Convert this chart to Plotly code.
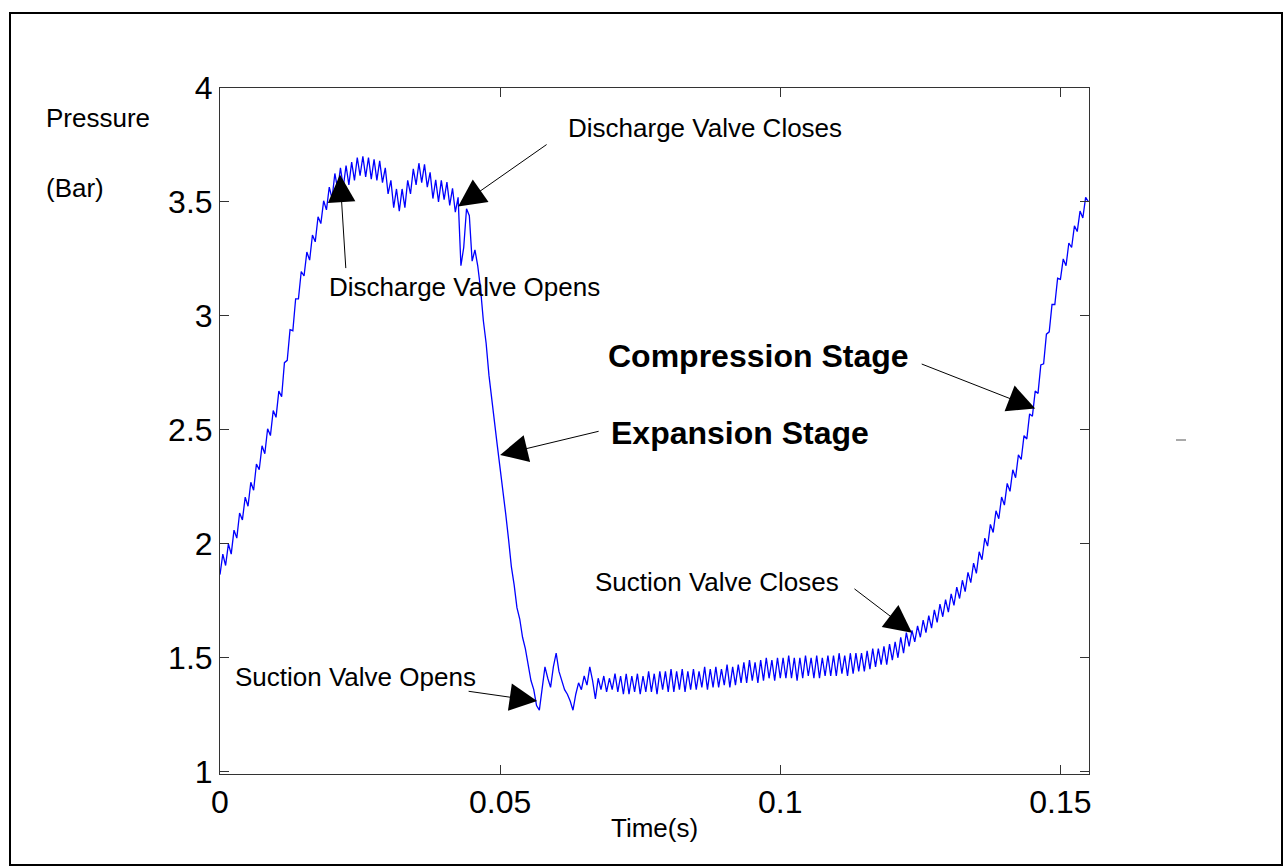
import plotly.graph_objects as go

# ---- data -------------------------------------------------------------
sample_step_s = 0.0005
pressure_bar = [
    1.865, 1.955, 1.905, 2.00, 1.955, 2.06, 2.025, 2.135, 2.105, 2.205,
    2.165, 2.27, 2.235, 2.35, 2.325, 2.43, 2.395, 2.505, 2.475, 2.585,
    2.555, 2.67, 2.645, 2.795, 2.805, 2.94, 2.935, 3.075, 3.075, 3.195,
    3.175, 3.28, 3.245, 3.355, 3.325, 3.435, 3.405, 3.505, 3.465, 3.565,
    3.515, 3.625, 3.555, 3.65, 3.565, 3.66, 3.575, 3.675, 3.595, 3.695,
    3.615, 3.70, 3.61, 3.695, 3.60, 3.687, 3.595, 3.68, 3.585, 3.65,
    3.535, 3.595, 3.475, 3.557, 3.46, 3.557, 3.475, 3.595, 3.535, 3.645,
    3.575, 3.67, 3.585, 3.665, 3.565, 3.63, 3.515, 3.597, 3.50, 3.595,
    3.51, 3.587, 3.485, 3.56, 3.455, 3.52, 3.22, 3.30, 3.47, 3.44,
    3.24, 3.29, 3.22, 3.12, 2.98, 2.88, 2.74, 2.63, 2.52, 2.43,
    2.33, 2.24, 2.13, 2.02, 1.90, 1.82, 1.72, 1.67, 1.59, 1.54,
    1.46, 1.40, 1.36, 1.29, 1.27, 1.36, 1.46, 1.41, 1.37, 1.46,
    1.52, 1.44, 1.40, 1.36, 1.34, 1.31, 1.27, 1.34, 1.39, 1.36,
    1.42, 1.38, 1.46, 1.40, 1.32, 1.41, 1.36, 1.42, 1.35, 1.41,
    1.36, 1.43, 1.35, 1.42, 1.34, 1.43, 1.34, 1.42, 1.35, 1.43,
    1.34, 1.42, 1.35, 1.44, 1.35, 1.43, 1.34, 1.44, 1.36, 1.44,
    1.35, 1.45, 1.35, 1.44, 1.36, 1.45, 1.35, 1.44, 1.36, 1.45,
    1.36, 1.44, 1.37, 1.46, 1.36, 1.45, 1.37, 1.46, 1.37, 1.45,
    1.38, 1.47, 1.37, 1.46, 1.38, 1.47, 1.39, 1.48, 1.39, 1.49,
    1.40, 1.48, 1.39, 1.49, 1.40, 1.50, 1.41, 1.49, 1.40, 1.50,
    1.41, 1.50, 1.41, 1.51, 1.41, 1.50, 1.40, 1.50, 1.41, 1.51,
    1.42, 1.50, 1.41, 1.51, 1.41, 1.50, 1.42, 1.51, 1.42, 1.51,
    1.42, 1.52, 1.43, 1.51, 1.42, 1.52, 1.43, 1.52, 1.44, 1.52,
    1.44, 1.53, 1.45, 1.54, 1.46, 1.54, 1.47, 1.55, 1.47, 1.56,
    1.49, 1.57, 1.50, 1.59, 1.52, 1.61, 1.55, 1.62, 1.57, 1.64,
    1.59, 1.665, 1.61, 1.685, 1.63, 1.71, 1.655, 1.735, 1.68, 1.755,
    1.70, 1.78, 1.73, 1.81, 1.76, 1.84, 1.79, 1.875, 1.83, 1.915,
    1.87, 1.965, 1.93, 2.025, 1.99, 2.085, 2.05, 2.145, 2.11, 2.205,
    2.17, 2.265, 2.23, 2.325, 2.29, 2.39, 2.37, 2.475, 2.46, 2.57,
    2.56, 2.67, 2.66, 2.785, 2.79, 2.92, 2.93, 3.05, 3.05, 3.165,
    3.16, 3.25, 3.22, 3.32, 3.30, 3.395, 3.37, 3.46, 3.43, 3.52,
    3.50,
]
time_s = [round(i * sample_step_s, 6) for i in range(len(pressure_bar))]

x_tick_vals = [0, 0.05, 0.1, 0.15]
x_tick_text = ["0", "0.05", "0.1", "0.15"]
y_tick_vals = [1, 1.5, 2, 2.5, 3, 3.5, 4]
y_tick_text = ["1", "1.5", "2", "2.5", "3", "3.5", "4"]

# event labels: (text, time, pressure at arrow tip)
event_labels = ["Discharge Valve Closes", "Discharge Valve Opens",
                "Suction Valve Closes", "Suction Valve Opens"]
event_times = [0.0425, 0.0214, 0.1235, 0.0566]
event_pressures = [3.48, 3.62, 1.61, 1.31]
stage_labels = ["Expansion Stage", "Compression Stage"]
stage_times = [0.0500, 0.1455]
stage_pressures = [2.39, 2.594]

# ---- layout geometry (pixels) -----------------------------------------
W, H = 1284, 867
ML, MR, MT, MB = 220, 195, 88, 93
PW, PH = W - ML - MR, H - MT - MB


def px(xp):
    return (xp - ML) / PW


def py(yp):
    return (H - MB - yp) / PH


FONT = "Liberation Sans, Arial, Helvetica, sans-serif"
TXT = 26
BOLD = 32

fig = go.Figure()
fig.add_trace(go.Scatter(
    x=time_s, y=pressure_bar, mode="lines",
    line=dict(color="#0000ff", width=1.3), showlegend=False,
    hoverinfo="skip",
))

axis_common = dict(
    showgrid=False, zeroline=False, showline=True, linecolor="#333333",
    linewidth=1, mirror="ticks", ticks="inside", ticklen=9, tickwidth=1,
    tickcolor="#333333", tickfont=dict(family=FONT, size=32, color="black"),
)
fig.update_xaxes(range=[0, 0.1551], tickmode="array", tickvals=x_tick_vals,
                 ticktext=x_tick_text, **axis_common)
fig.update_yaxes(range=[0.99, 4.0], tickmode="array", tickvals=y_tick_vals,
                 ticktext=y_tick_text, **axis_common)

annotations = []
text_pos = {
    "Discharge Valve Closes": (566, 128),
    "Discharge Valve Opens": (327, 287),
    "Suction Valve Closes": (593, 582),
    "Suction Valve Opens": (233, 677),
    "Expansion Stage": (609, 433),
    "Compression Stage": (606, 356),
}
tail_off = {
    "Discharge Valve Closes": (90, -63),
    "Discharge Valve Opens": (6, 95),
    "Suction Valve Closes": (-59, -45),
    "Suction Valve Opens": (-70, -10),
    "Expansion Stage": (100, -24),
    "Compression Stage": (-115, -45),
}

arrow_style = dict(showarrow=True, arrowhead=2, arrowsize=5.5, arrowwidth=1,
                   arrowcolor="black", standoff=0)

for lbl, t, p in zip(event_labels, event_times, event_pressures):
    tx, ty = text_pos[lbl]
    annotations.append(dict(
        text=lbl, x=px(tx), y=py(ty), xref="paper", yref="paper",
        xanchor="left", yanchor="middle", showarrow=False,
        font=dict(family=FONT, size=TXT, color="black")))
    ax, ay = tail_off[lbl]
    annotations.append(dict(text="", x=t, y=p, xref="x", yref="y",
                            ax=ax, ay=ay, **arrow_style))

for lbl, t, p in zip(stage_labels, stage_times, stage_pressures):
    tx, ty = text_pos[lbl]
    annotations.append(dict(
        text="<b>%s</b>" % lbl, x=px(tx), y=py(ty), xref="paper",
        yref="paper", xanchor="left", yanchor="middle", showarrow=False,
        font=dict(family=FONT, size=BOLD, color="black")))
    ax, ay = tail_off[lbl]
    annotations.append(dict(text="", x=t, y=p, xref="x", yref="y",
                            ax=ax, ay=ay, **arrow_style))

# axis labels
annotations.append(dict(text="Pressure", x=px(44), y=py(118), xref="paper",
                        yref="paper", xanchor="left", yanchor="middle",
                        showarrow=False,
                        font=dict(family=FONT, size=TXT, color="black")))
annotations.append(dict(text="(Bar)", x=px(44), y=py(188), xref="paper",
                        yref="paper", xanchor="left", yanchor="middle",
                        showarrow=False,
                        font=dict(family=FONT, size=TXT, color="black")))
annotations.append(dict(text="Time(s)", x=0.5, y=py(828), xref="paper",
                        yref="paper", xanchor="center", yanchor="middle",
                        showarrow=False,
                        font=dict(family=FONT, size=TXT, color="black")))

shapes = [
    dict(type="rect", xref="paper", yref="paper",
         x0=px(10), x1=px(1282), y0=py(865), y1=py(13),
         line=dict(color="black", width=2), fillcolor="rgba(0,0,0,0)"),
    dict(type="line", xref="paper", yref="paper",
         x0=px(1176), x1=px(1186), y0=py(440), y1=py(440),
         line=dict(color="#555555", width=1)),
]

fig.update_layout(
    width=W, height=H,
    margin=dict(l=ML, r=MR, t=MT, b=MB, pad=0),
    paper_bgcolor="white", plot_bgcolor="white",
    annotations=annotations, shapes=shapes,
    font=dict(family=FONT, color="black"),
)

fig.write_html("out.html", include_plotlyjs=True)
